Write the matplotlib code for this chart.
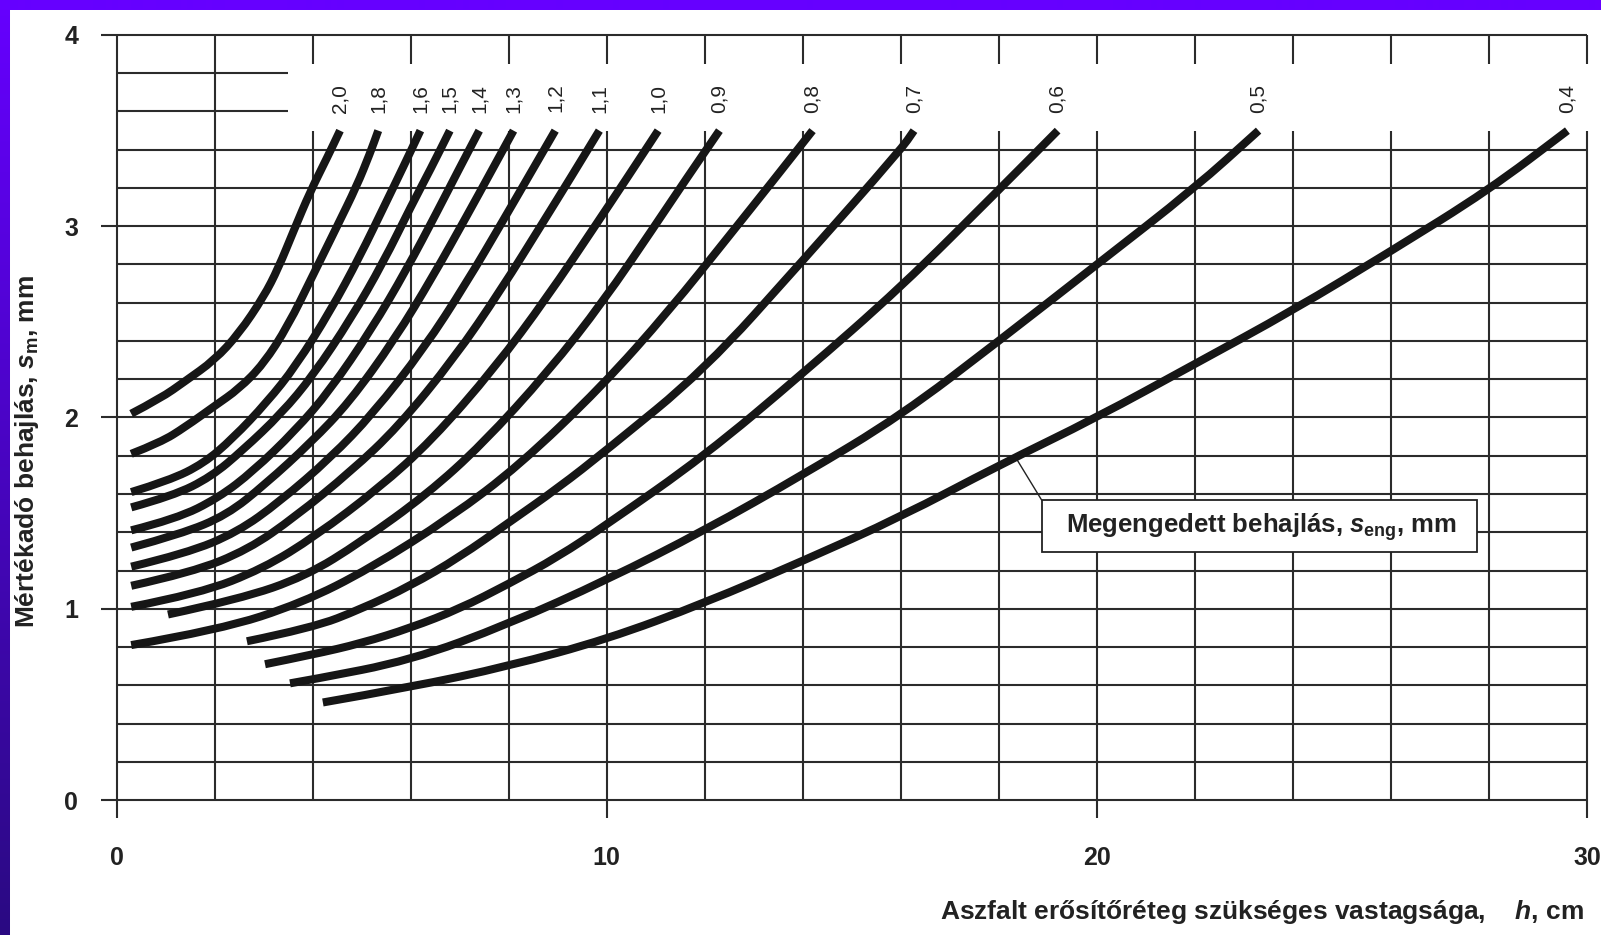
import numpy as np
import matplotlib
matplotlib.use('Agg')
import matplotlib.pyplot as plt
from matplotlib.patches import Rectangle, PathPatch
from matplotlib.path import Path

plt.rcParams['font.family'] = ['Liberation Sans', 'DejaVu Sans']
plt.rcParams['font.weight'] = 'bold'
plt.rcParams['mathtext.fontset'] = 'custom'
plt.rcParams['mathtext.rm'] = 'Liberation Sans:bold'
plt.rcParams['mathtext.it'] = 'Liberation Sans:bold:italic'
plt.rcParams['mathtext.bf'] = 'Liberation Sans:bold'

# curves: h (cm) vs s_m (mm), one per allowed deflection s_eng
h_20 = [0.30, 0.90, 1.40, 2.00, 2.50, 3.00, 3.30, 3.62, 3.95, 4.30, 4.56]
s_20 = [2.02, 2.10, 2.19, 2.30, 2.44, 2.63, 2.78, 2.98, 3.18, 3.36, 3.50]
h_18 = [0.30, 0.90, 1.40, 2.00, 2.50, 3.00, 3.50, 4.00, 4.50, 4.90, 5.17, 5.34]
s_18 = [1.81, 1.87, 1.95, 2.06, 2.15, 2.28, 2.48, 2.74, 3.00, 3.21, 3.38, 3.50]
h_16 = [0.30, 1.07, 1.78, 2.37, 3.07, 3.66, 4.37, 4.96, 5.49, 5.85, 6.20]
s_16 = [1.61, 1.67, 1.76, 1.89, 2.08, 2.27, 2.56, 2.84, 3.12, 3.31, 3.50]
h_15 = [0.30, 1.15, 1.93, 2.58, 3.36, 4.01, 4.79, 5.44, 6.02, 6.41, 6.80]
s_15 = [1.53, 1.59, 1.69, 1.83, 2.02, 2.22, 2.52, 2.81, 3.11, 3.30, 3.50]
h_14 = [0.30, 1.22, 2.08, 2.79, 3.64, 4.35, 5.20, 5.91, 6.55, 6.97, 7.40]
s_14 = [1.41, 1.47, 1.58, 1.72, 1.93, 2.14, 2.46, 2.77, 3.08, 3.29, 3.50]
h_13 = [0.30, 1.31, 2.25, 3.03, 3.97, 4.75, 5.68, 6.46, 7.16, 7.63, 8.10]
s_13 = [1.32, 1.39, 1.49, 1.65, 1.87, 2.08, 2.41, 2.74, 3.06, 3.28, 3.50]
h_12 = [0.30, 1.43, 2.46, 3.33, 4.37, 5.23, 6.27, 7.13, 7.91, 8.43, 8.95]
s_12 = [1.22, 1.29, 1.40, 1.56, 1.79, 2.02, 2.36, 2.70, 3.04, 3.27, 3.50]
h_11 = [0.30, 1.54, 2.69, 3.64, 4.79, 5.74, 6.89, 7.85, 8.70, 9.28, 9.85]
s_11 = [1.12, 1.19, 1.31, 1.48, 1.72, 1.95, 2.31, 2.67, 3.02, 3.26, 3.50]
h_10 = [0.30, 1.70, 2.99, 4.06, 5.35, 6.43, 7.72, 8.79, 9.76, 10.41, 11.05]
s_10 = [1.01, 1.08, 1.21, 1.38, 1.63, 1.88, 2.26, 2.63, 3.00, 3.25, 3.50]
h_09 = [1.05, 2.51, 3.86, 4.99, 6.34, 7.46, 8.81, 9.94, 10.95, 11.63, 12.30]
s_09 = [0.97, 1.05, 1.17, 1.35, 1.60, 1.86, 2.24, 2.61, 2.99, 3.25, 3.50]
h_08 = [0.30, 2.11, 3.78, 5.17, 6.83, 8.22, 9.89, 11.28, 12.53, 13.37, 14.20]
s_08 = [0.81, 0.89, 1.03, 1.21, 1.48, 1.75, 2.16, 2.56, 2.96, 3.23, 3.50]
h_07 = [2.66, 4.0, 5.0, 6.0, 7.0, 8.0, 9.0, 10.0, 12.0, 14.0, 16.0, 16.27]
s_07 = [0.83, 0.90, 1.00, 1.12, 1.27, 1.45, 1.63, 1.83, 2.25, 2.82, 3.40, 3.50]
h_06 = [3.03, 4.0, 5.0, 6.0, 7.0, 8.0, 9.0, 10.0, 12.0, 14.0, 16.0, 18.0, 19.2]
s_06 = [0.71, 0.76, 0.82, 0.90, 1.00, 1.13, 1.27, 1.44, 1.80, 2.23, 2.68, 3.19, 3.50]
h_05 = [3.54, 4.0, 6.0, 8.0, 10.0, 12.0, 14.0, 16.0, 18.0, 20.0, 22.0, 23.3]
s_05 = [0.61, 0.63, 0.73, 0.92, 1.15, 1.41, 1.70, 2.01, 2.40, 2.80, 3.20, 3.50]
h_04 = [4.21, 6.0, 8.0, 10.0, 12.0, 14.0, 16.0, 18.0, 20.0, 22.0, 24.0, 26.0, 28.0, 29.6]
s_04 = [0.51, 0.59, 0.70, 0.84, 1.03, 1.25, 1.48, 1.75, 2.00, 2.28, 2.56, 2.87, 3.19, 3.50]

curve_labels = ['2,0', '1,8', '1,6', '1,5', '1,4', '1,3', '1,2', '1,1',
                '1,0', '0,9', '0,8', '0,7', '0,6', '0,5', '0,4']
curve_h = [h_20, h_18, h_16, h_15, h_14, h_13, h_12, h_11,
           h_10, h_09, h_08, h_07, h_06, h_05, h_04]
curve_s = [s_20, s_18, s_16, s_15, s_14, s_13, s_12, s_11,
           s_10, s_09, s_08, s_07, s_06, s_05, s_04]

x_ticks = [0, 10, 20, 30]
y_ticks = [0, 1, 2, 3, 4]


def smooth_path(xs, ys):
    # quadratic segments through the midpoints, read points act as control points
    pts = list(zip(xs, ys))
    verts = [pts[0]]
    codes = [Path.MOVETO]
    for i in range(1, len(pts) - 1):
        mid = ((pts[i][0] + pts[i + 1][0]) / 2, (pts[i][1] + pts[i + 1][1]) / 2)
        verts += [pts[i], mid]
        codes += [Path.CURVE3, Path.CURVE3]
    verts.append(pts[-1])
    codes.append(Path.LINETO)
    return Path(verts, codes)


W, H = 1601, 935
fig = plt.figure(figsize=(W / 100, H / 100), dpi=100)

# purple slide frame (top and left strips)
bg = fig.add_axes([0, 0, 1, 1], zorder=0)
bg.axis('off')
img = np.ones((H, W, 3))
top_c = np.array([0x66, 0x00, 0xff]) / 255
bot_c = np.array([0x2a, 0x0a, 0x82]) / 255
t = np.linspace(0, 1, H)[:, None]
img[:, :10] = (top_c * (1 - t) + bot_c * t)[:, None, :]
img[:10, :] = top_c
bg.imshow(img, aspect='auto', extent=[0, 1, 0, 1])
bg.set_xlim(0, 1)
bg.set_ylim(0, 1)

# main chart area
x0_px, x30_px = 116.5, 1587.0
y0_px, y4_px = 800.0, 35.0
ax = fig.add_axes([x0_px / W, 1 - y0_px / H, (x30_px - x0_px) / W, (y0_px - y4_px) / H], zorder=1)
ax.set_xlim(0, 30)
ax.set_ylim(0, 4)
ax.patch.set_alpha(0)
for sp in ax.spines.values():
    sp.set_visible(False)

gc = '#2b2b2b'
grid_kw = dict(color=gc, lw=1.5, zorder=1, clip_on=False)
ax.hlines(np.arange(0, 3.41, 0.2), 0, 30, **grid_kw)
ax.hlines([3.6, 3.8], 0, 3.5, **grid_kw)
ax.hlines(4.0, 0, 30, **grid_kw)
ax.vlines([0, 2], 0, 4, **grid_kw)
xs_cut = np.arange(4, 31, 2)
ax.vlines(xs_cut, 0, 3.5, **grid_kw)
ax.vlines(xs_cut, 3.85, 4, **grid_kw)

# ticks
ax.set_xticks(x_ticks)
ax.set_xticklabels([str(v) for v in x_ticks])
ax.set_yticks(y_ticks)
ax.set_yticklabels([str(v) for v in y_ticks])
ax.tick_params(axis='x', length=13, width=1.5, color=gc, pad=20, labelsize=18, labelcolor='#222222')
ax.tick_params(axis='y', length=11.5, width=1.5, color=gc, pad=16, labelsize=18, labelcolor='#222222')

# curves with labels at their upper ends
for lab, hh, ss in zip(curve_labels, curve_h, curve_s):
    ax.add_patch(PathPatch(smooth_path(hh, ss), facecolor='none', edgecolor='#161616',
                           lw=5.8, capstyle='butt', joinstyle='round', zorder=3))
    ax.text(hh[-1], 3.67, lab, rotation=90, ha='center', va='center',
            fontsize=15, fontweight='normal', color='#222222')

# callout box for the allowed deflection
ax.plot([18.37, 18.87], [1.78, 1.57], color='#222222', lw=1.0, zorder=2)
ax.add_patch(Rectangle((18.88, 1.297), 8.88, 0.27, facecolor='white',
                       edgecolor='#222222', lw=1.3, zorder=4))
ax.text(23.35, 1.425, 'Megengedett behajlás, $s_{\\mathrm{eng}}$, mm', ha='center',
        va='center', fontsize=18.5, color='#222222', zorder=5)

# axis titles
fig.text(27 / W, 1 - 451 / H, 'Mértékadó behajlás, $s_{\\mathrm{m}}$, mm', rotation=90,
         ha='center', va='center', fontsize=19, color='#222222')
fig.text(1584 / W, 1 - 912 / H, 'Aszfalt erősítőréteg szükséges vastagsága,    $h$, cm',
         ha='right', va='center', fontsize=19, color='#222222')

fig.savefig('out.png', dpi=100)
